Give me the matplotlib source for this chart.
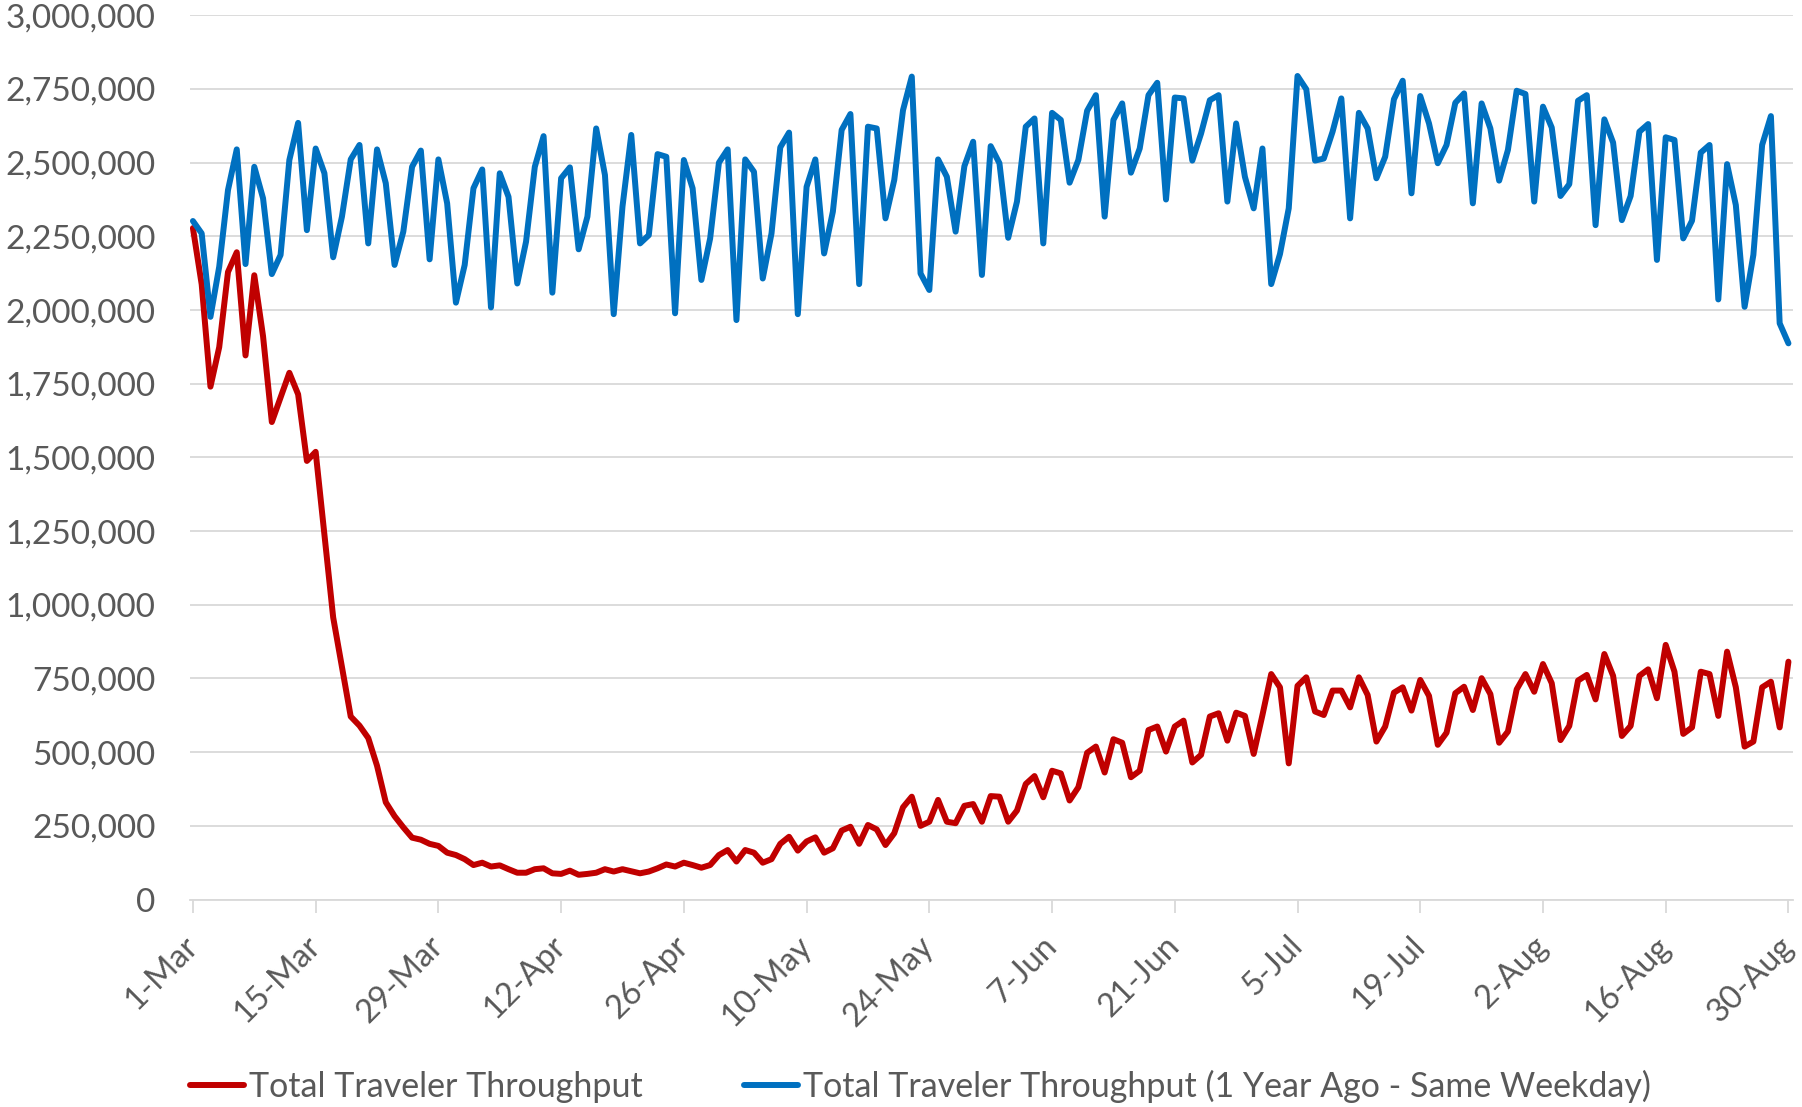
import matplotlib
matplotlib.use('Agg')
import matplotlib.pyplot as plt
import matplotlib.dates as mdates
import numpy as np
import pandas as pd
from matplotlib.ticker import FuncFormatter

plt.rcParams['font.family'] = ['Lato', 'DejaVu Sans']

# ---------------- data (values in thousands of travelers) ----------------
start_date = '2020-03-01'

throughput_k = [
    2278, 2087, 1740, 1874, 2129, 2196, 1846, 2118, 1911, 1620,
    1703, 1787, 1714, 1488, 1519, 1238, 957, 789, 621, 590,
    548, 454, 330, 283, 245, 210, 203, 189, 182, 159,
    151, 137, 117, 125, 112, 116, 103, 91, 91, 103,
    106, 89, 87, 98, 84, 87, 91, 103, 95, 103,
    96, 89, 95, 106, 119, 112, 125, 117, 108, 117,
    151, 168, 129, 168, 159, 125, 137, 189, 213, 166,
    197, 211, 159, 174, 234, 247, 189, 253, 238, 185,
    225, 313, 349, 250, 264, 338, 264, 259, 318, 324,
    264, 351, 349, 264, 302, 392, 419, 347, 437, 428,
    336, 381, 498, 519, 431, 544, 532, 415, 437, 575,
    587, 502, 587, 607, 465, 491, 621, 632, 539, 634,
    623, 494, 626, 765, 720, 462, 725, 754, 638, 626,
    709, 709, 652, 754, 694, 536, 587, 702, 720, 641,
    745, 691, 525, 566, 700, 722, 643, 751, 697, 532,
    570, 713, 765, 705, 799, 734, 541, 589, 743, 762,
    679, 833, 759, 555, 589, 759, 781, 683, 864, 773,
    562, 584, 773, 765, 623, 841, 720, 519, 536, 720,
    739, 584, 807,
]

year_ago_k = [
    2302, 2260, 1977, 2147, 2407, 2545, 2156, 2486, 2379, 2122,
    2187, 2509, 2635, 2271, 2548, 2464, 2179, 2317, 2511, 2560,
    2226, 2545, 2430, 2153, 2266, 2486, 2541, 2172, 2511, 2362,
    2025, 2153, 2413, 2477, 2009, 2464, 2384, 2090, 2232, 2486,
    2590, 2059, 2447, 2484, 2206, 2317, 2616, 2458, 1986, 2351,
    2594, 2226, 2254, 2529, 2520, 1989, 2509, 2413, 2102, 2243,
    2500, 2545, 1966, 2511, 2469, 2107, 2260, 2552, 2602, 1986,
    2418, 2511, 2192, 2334, 2611, 2665, 2088, 2622, 2616, 2311,
    2441, 2678, 2792, 2124, 2068, 2511, 2452, 2266, 2488, 2571,
    2119, 2556, 2498, 2245, 2368, 2622, 2650, 2226, 2669, 2645,
    2432, 2509, 2676, 2729, 2317, 2645, 2701, 2466, 2548, 2729,
    2771, 2375, 2721, 2718, 2507, 2599, 2712, 2729, 2368, 2633,
    2452, 2345, 2548, 2088, 2190, 2345, 2794, 2749, 2507, 2514,
    2605, 2718, 2311, 2669, 2616, 2447, 2520, 2715, 2778, 2396,
    2726, 2633, 2498, 2560, 2703, 2735, 2362, 2701, 2616, 2439,
    2543, 2744, 2733, 2368, 2690, 2619, 2387, 2427, 2710, 2729,
    2288, 2647, 2568, 2305, 2387, 2605, 2631, 2170, 2586, 2577,
    2243, 2303, 2534, 2560, 2036, 2495, 2356, 2011, 2187, 2560,
    2658, 1955, 1887,
]

series_labels = ['Total Traveler Throughput',
                 'Total Traveler Throughput (1 Year Ago - Same Weekday)']
series_colors = ['#C00000', '#0070C0']

x_tick_labels = ['1-Mar', '15-Mar', '29-Mar', '12-Apr', '26-Apr', '10-May',
                 '24-May', '7-Jun', '21-Jun', '5-Jul', '19-Jul', '2-Aug',
                 '16-Aug', '30-Aug']
y_ticks = [0, 250000, 500000, 750000, 1000000, 1250000, 1500000, 1750000,
           2000000, 2250000, 2500000, 2750000, 3000000]

# ---------------- figure ----------------
dates = pd.date_range(start_date, periods=len(throughput_k), freq='D')
red = np.array(throughput_k) * 1000
blue = np.array(year_ago_k) * 1000

fig = plt.figure(figsize=(18.02, 11.07), dpi=100)
ax = fig.add_axes([0.1056, 0.1874, 0.8895, 0.7988])

grid_c = '#D9D9D9'
text_c = '#595959'

ax.plot(dates, red, color=series_colors[0], lw=4.3, label=series_labels[0],
        solid_joinstyle='round', solid_capstyle='round', zorder=3)
ax.plot(dates, blue, color=series_colors[1], lw=4.3, label=series_labels[1],
        solid_joinstyle='round', solid_capstyle='round', zorder=4)

d0 = mdates.date2num(dates[0])
ax.set_xlim(d0 - 0.3, d0 + 182.54)
ax.set_ylim(0, 3000000)

ax.set_yticks(y_ticks)
ax.yaxis.set_major_formatter(FuncFormatter(lambda v, p: f'{int(v):,}'))
ax.set_xticks(dates[::14])
ax.set_xticklabels(x_tick_labels, rotation=45, ha='right', va='center',
                   rotation_mode='anchor')

ax.grid(axis='y', color=grid_c, lw=1.3)
ax.set_axisbelow(True)
for s in ['left', 'right', 'top']:
    ax.spines[s].set_visible(False)
ax.spines['bottom'].set_color(grid_c)
ax.spines['bottom'].set_linewidth(1.3)

ax.tick_params(axis='y', length=0, pad=25, labelsize=24, labelcolor=text_c)
ax.tick_params(axis='x', length=9, width=1.3, color=grid_c, direction='out',
               pad=21, labelsize=23.5, labelcolor=text_c)

fig.legend(loc='center left', bbox_to_anchor=(0.1054, 0.019), ncol=2,
           frameon=False, handlelength=1.6, handletextpad=0.15,
           columnspacing=2.95, borderpad=0, borderaxespad=0, fontsize=24.5,
           labelcolor=text_c)

fig.savefig('out.png', dpi=100, facecolor='white')
